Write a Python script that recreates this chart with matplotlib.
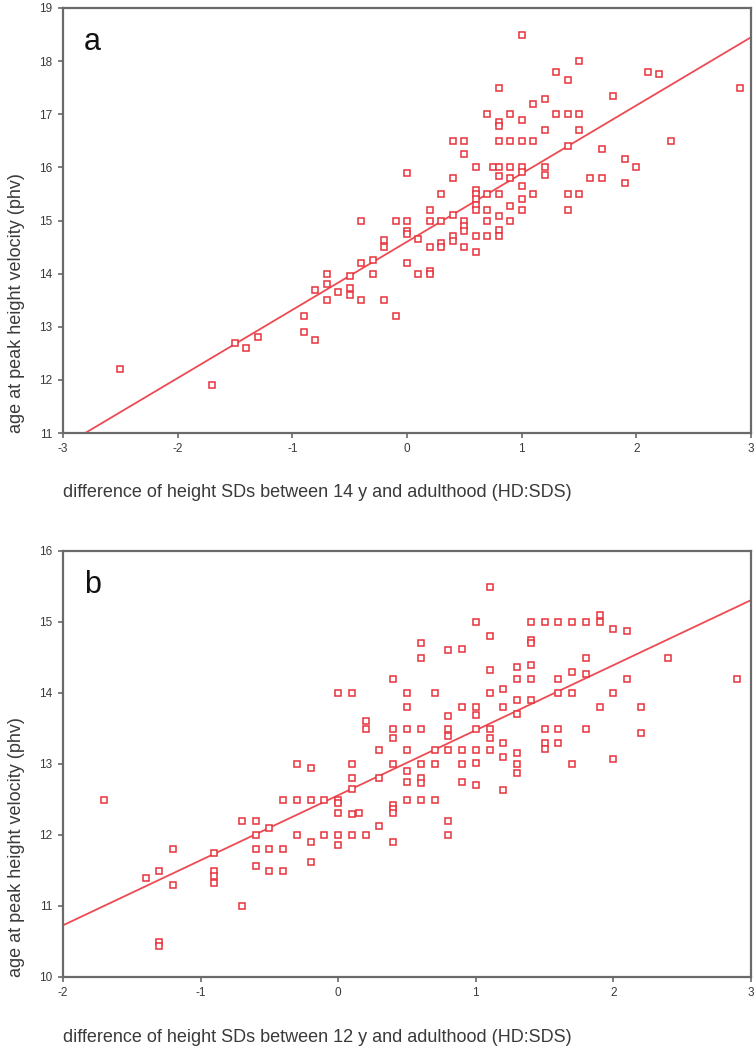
import numpy as np
import matplotlib
matplotlib.use("Agg")
import matplotlib.pyplot as plt

plt.rcParams['font.family'] = ['Liberation Sans', 'DejaVu Sans']
plt.rcParams['axes.unicode_minus'] = False

# ---------------- data: panel a (14 y) ----------------
a_x = [-2.5, -1.7, -1.5, -1.4, -1.3, -0.9, -0.9, -0.8, -0.8, -0.7, -0.7, -0.7, -0.6,
       -0.5, -0.5, -0.5, -0.4, -0.4, -0.4, -0.3, -0.3, -0.2, -0.2, -0.2, -0.1, -0.1,
       0.0, 0.0, 0.0, 0.0, 0.0, 0.1, 0.1, 0.2, 0.2, 0.2, 0.2, 0.2,
       0.3, 0.3, 0.3, 0.3, 0.4, 0.4, 0.4, 0.4, 0.4,
       0.5, 0.5, 0.5, 0.5, 0.5, 0.5,
       0.6, 0.6, 0.6, 0.6, 0.6, 0.6, 0.6, 0.6,
       0.7, 0.7, 0.7, 0.7, 0.7, 0.75,
       0.8, 0.8, 0.8, 0.8, 0.8, 0.8, 0.8, 0.8, 0.8, 0.8,
       0.9, 0.9, 0.9, 0.9, 0.9, 0.9,
       1.0, 1.0, 1.0, 1.0, 1.0, 1.0, 1.0, 1.0,
       1.1, 1.1, 1.1, 1.2, 1.2, 1.2, 1.2, 1.3, 1.3,
       1.4, 1.4, 1.4, 1.4, 1.4, 1.5, 1.5, 1.5, 1.5,
       1.6, 1.7, 1.7, 1.8, 1.9, 1.9, 2.0, 2.1, 2.2, 2.3, 2.9]
a_y = [12.2, 11.9, 12.7, 12.6, 12.8, 13.2, 12.9, 12.75, 13.7, 14.0, 13.8, 13.5, 13.65,
       13.95, 13.73, 13.6, 15.0, 14.2, 13.5, 14.25, 14.0, 14.63, 14.5, 13.5, 15.0, 13.2,
       15.9, 15.0, 14.8, 14.75, 14.2, 14.65, 14.0, 15.2, 15.0, 14.5, 14.05, 14.0,
       15.5, 15.0, 14.58, 14.5, 16.5, 15.8, 15.1, 14.7, 14.62,
       16.5, 16.25, 15.0, 14.9, 14.8, 14.5,
       16.0, 15.57, 15.5, 15.4, 15.3, 15.2, 14.7, 14.4,
       17.0, 15.5, 15.2, 15.0, 14.7, 16.0,
       17.5, 16.85, 16.77, 16.5, 16.0, 15.83, 15.5, 15.08, 14.82, 14.7,
       17.0, 16.5, 16.0, 15.8, 15.27, 15.0,
       18.5, 16.9, 16.5, 16.0, 15.92, 15.65, 15.4, 15.2,
       17.2, 16.5, 15.5, 17.28, 16.7, 16.0, 15.86, 17.8, 17.0,
       17.65, 17.0, 16.4, 15.5, 15.2, 18.0, 17.0, 16.7, 15.5,
       15.8, 16.35, 15.8, 17.35, 16.15, 15.7, 16.0, 17.8, 17.75, 16.5, 17.5]
a_fit = [14.60, 1.283]          # intercept, slope of the drawn regression line
a_xticks = [-3, -2, -1, 0, 1, 2, 3]
a_yticks = [11, 12, 13, 14, 15, 16, 17, 18, 19]

# ---------------- data: panel b (12 y) ----------------
b_x = [-1.7, -1.4, -1.3, -1.3, -1.3, -1.2, -1.2, -0.9, -0.9, -0.9, -0.9,
       -0.7, -0.7, -0.6, -0.6, -0.6, -0.6, -0.5, -0.5, -0.5, -0.4, -0.4, -0.4,
       -0.3, -0.3, -0.3, -0.2, -0.2, -0.2, -0.2, -0.1, -0.1,
       0.0, 0.0, 0.0, 0.0, 0.0, 0.0, 0.1, 0.1, 0.1, 0.1, 0.1, 0.1, 0.15,
       0.2, 0.2, 0.2, 0.3, 0.3, 0.3,
       0.4, 0.4, 0.4, 0.4, 0.4, 0.4, 0.4, 0.4,
       0.5, 0.5, 0.5, 0.5, 0.5, 0.5, 0.5,
       0.6, 0.6, 0.6, 0.6, 0.6, 0.6, 0.6,
       0.7, 0.7, 0.7, 0.7,
       0.8, 0.8, 0.8, 0.8, 0.8, 0.8, 0.8,
       0.9, 0.9, 0.9, 0.9, 0.9,
       1.0, 1.0, 1.0, 1.0, 1.0, 1.0, 1.0,
       1.1, 1.1, 1.1, 1.1, 1.1, 1.1, 1.1,
       1.2, 1.2, 1.2, 1.2, 1.2,
       1.3, 1.3, 1.3, 1.3, 1.3, 1.3, 1.3,
       1.4, 1.4, 1.4, 1.4, 1.4, 1.4,
       1.5, 1.5, 1.5, 1.5, 1.6, 1.6, 1.6, 1.6, 1.6,
       1.7, 1.7, 1.7, 1.7, 1.8, 1.8, 1.8, 1.8,
       1.9, 1.9, 1.9, 2.0, 2.0, 2.0, 2.1, 2.1, 2.2, 2.2, 2.4, 2.9]
b_y = [12.5, 11.4, 11.5, 10.5, 10.43, 11.8, 11.3, 11.75, 11.5, 11.42, 11.32,
       12.2, 11.0, 12.2, 12.0, 11.8, 11.57, 12.1, 11.8, 11.5, 12.5, 11.8, 11.5,
       13.0, 12.5, 12.0, 12.95, 12.5, 11.9, 11.62, 12.5, 12.0,
       14.0, 12.5, 12.45, 12.31, 12.0, 11.86, 14.0, 13.0, 12.8, 12.65, 12.3, 12.0, 12.31,
       13.6, 13.5, 12.0, 13.2, 12.8, 12.13,
       14.2, 13.5, 13.36, 13.0, 12.42, 12.36, 12.31, 11.9,
       14.0, 13.8, 13.5, 13.2, 12.9, 12.75, 12.5,
       14.7, 14.5, 13.5, 13.0, 12.8, 12.73, 12.5,
       14.0, 13.2, 13.0, 12.5,
       14.6, 13.67, 13.5, 13.4, 13.2, 12.2, 12.0,
       14.62, 13.8, 13.2, 13.0, 12.74,
       15.0, 13.8, 13.69, 13.5, 13.2, 13.02, 12.71,
       15.5, 14.8, 14.32, 14.0, 13.5, 13.36, 13.2,
       14.05, 13.8, 13.3, 13.1, 12.63,
       14.37, 14.2, 13.9, 13.7, 13.16, 13.0, 12.88,
       15.0, 14.75, 14.7, 14.4, 14.2, 13.9,
       15.0, 13.5, 13.3, 13.21, 15.0, 14.2, 14.0, 13.5, 13.3,
       15.0, 14.3, 14.0, 13.0, 15.0, 14.5, 14.27, 13.5,
       15.1, 15.0, 13.8, 14.9, 14.0, 13.07, 14.88, 14.2, 13.8, 13.44, 14.5, 14.2]
b_fit = [12.56, 0.916]
b_xticks = [-2, -1, 0, 1, 2, 3]
b_yticks = [10, 11, 12, 13, 14, 15, 16]

ylabel = "age at peak height velocity (phv)"
xlabel_a = "difference of height SDs between 14 y and adulthood (HD:SDS)"
xlabel_b = "difference of height SDs between 12 y and adulthood (HD:SDS)"

RED = '#e8323c'
LINE = '#ee4a52'
SPINE = '#6a6a6a'
TXT = '#3a3a3a'

fig = plt.figure(figsize=(7.55, 10.5), dpi=100)
W, H = 755.0, 1050.0

def make_axes(left, top, right, bottom):
    return fig.add_axes([left / W, 1 - bottom / H, (right - left) / W, (bottom - top) / H])

def draw(ax, xs, ys, fit, xticks, yticks, xlabel, letter, label_y_px):
    ax.set_xlim(xticks[0], xticks[-1])
    ax.set_ylim(yticks[0], yticks[-1])
    xx = np.array([xticks[0], xticks[-1]], dtype=float)
    ax.plot(xx, fit[0] + fit[1] * xx, color=LINE, lw=1.3, zorder=2)
    ax.plot(xs, ys, linestyle='none', marker='s', markersize=5.0,
            markerfacecolor='white', markeredgecolor=RED, markeredgewidth=1.1, zorder=3,
            clip_on=False)
    ax.set_xticks(xticks)
    ax.set_yticks(yticks)
    ax.set_xticklabels([str(t) for t in xticks])
    ax.set_yticklabels([str(t) for t in yticks])
    for s in ax.spines.values():
        s.set_color(SPINE)
        s.set_linewidth(1.6)
    ax.tick_params(direction='out', length=3.5, width=1.2, color=SPINE,
                   labelsize=8.5, labelcolor=TXT, pad=4, top=False, right=False)
    ax.text(0.03, 0.955, letter, transform=ax.transAxes, fontsize=22,
            color='#111111', va='top', ha='left')
    # y label aligned with the bottom of the axes
    ax.text(-0.068, 0.0, ylabel, transform=ax.transAxes, rotation=90,
            fontsize=13, color=TXT, ha='center', va='bottom')
    fig.text(63 / W, 1 - label_y_px / H, xlabel, fontsize=13, color=TXT,
             ha='left', va='center')

ax1 = make_axes(63, 8, 751, 433)
draw(ax1, a_x, a_y, a_fit, a_xticks, a_yticks, xlabel_a, 'a', 493)

ax2 = make_axes(63, 551, 751, 977)
draw(ax2, b_x, b_y, b_fit, b_xticks, b_yticks, xlabel_b, 'b', 1037)

fig.savefig('out.png', dpi=100, facecolor='white')
